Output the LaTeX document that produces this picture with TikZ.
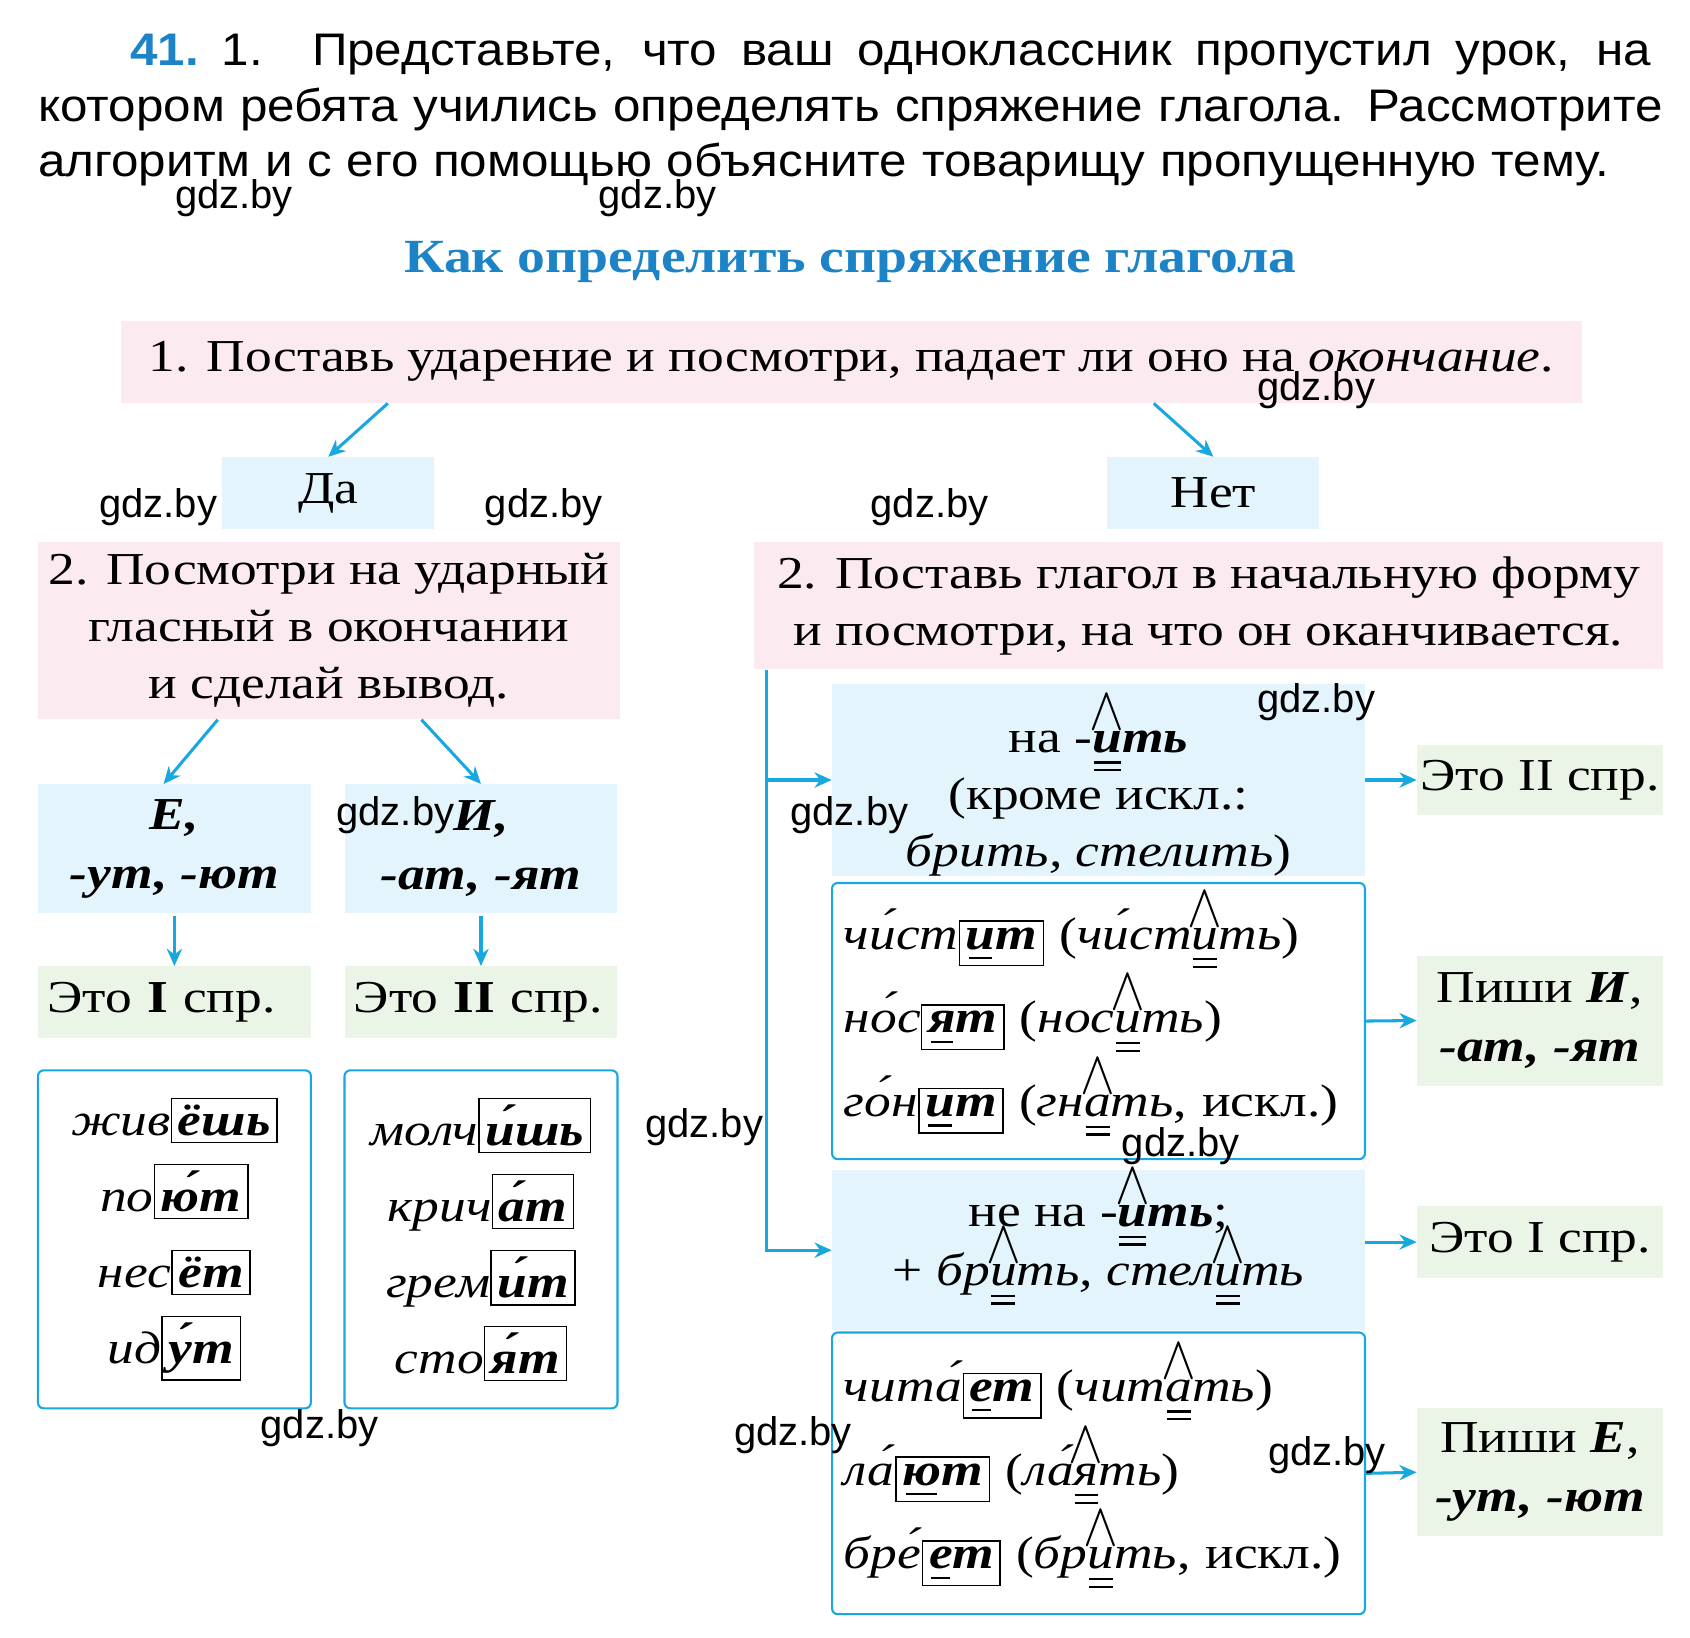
\documentclass[tikz,border=0pt]{standalone}
\usepackage{fontspec}
\setmainfont{Liberation Serif}[FakeStretch=1.17]
\setsansfont{Liberation Sans}[FakeStretch=1.08]
\usetikzlibrary{arrows.meta,calc}
\definecolor{hdblue}{RGB}{28,132,198}
\definecolor{arrcyan}{RGB}{24,168,224}
\definecolor{pinkbg}{RGB}{252,234,241}
\definecolor{bluebg}{RGB}{228,244,252}
\definecolor{greenbg}{RGB}{234,245,232}
% stressed vowel with caret above and double line below
\newcommand{\vw}[1]{\setbox0\hbox{#1}\rlap{\smash{\hbox to\wd0{\hss\raisebox{0.5em}{\scalebox{1.1}[1.3]{$\wedge$}}\hss}}}%
  \rlap{\smash{\hbox to\wd0{\hss\raisebox{-0.25em}{\rule{0.9\wd0}{0.05em}}\hss}}}%
  \rlap{\smash{\hbox to\wd0{\hss\raisebox{-0.42em}{\rule{0.9\wd0}{0.05em}}\hss}}}#1}
% single line below
\newcommand{\uvw}[1]{\setbox0\hbox{#1}\rlap{\hbox to\wd0{\hss\raisebox{-0.22em}{\rule{0.8\wd0}{0.05em}}\hss}}#1}
\newcommand{\wend}[1]{{\setlength{\fboxsep}{3pt}\setlength{\fboxrule}{0.8pt}\fbox{\textbf{\textit{#1}}}}}
\newcommand{\wm}[1]{{\fontspec{Liberation Sans}\fontsize{21}{24}\selectfont #1}}

\begin{document}
\begin{tikzpicture}[x=0.02cm,y=-0.02cm,
  every node/.style={inner sep=0pt,font=\fontsize{24}{30}\selectfont},
  pinkbox/.style={fill=pinkbg,align=center},
  bluebox/.style={fill=bluebg,align=center},
  greenbox/.style={fill=greenbg,align=center},
  wordbox/.style={draw=arrcyan,line width=1.1pt,rounded corners=3pt},
  arr/.style={-{Stealth[length=9pt,width=8pt]},draw=arrcyan,line width=1.6pt}]
\useasboundingbox[fill=white] (0,0) rectangle (1560,1512);

% task text
\node[anchor=base west,font=\sffamily\fontsize{24}{28}\selectfont] (line1) at (120,60)
  {\textcolor{hdblue}{\textbf{41.}}\hspace{0.5em}\makebox[26.4cm][s]{1. Представьте, что ваш одноклассник пропустил урок, на}};
\node[anchor=base west,font=\sffamily\fontsize{24}{28}\selectfont] (line2) at (35,112)
  {\makebox[30cm][s]{котором ребята учились определять спряжение глагола. Рассмотрите}};
\node[anchor=base west,font=\sffamily\fontsize{24}{28}\selectfont] (line3) at (35,163)
  {\makebox[29cm][s]{алгоритм и с его помощью объясните товарищу пропущенную тему.}};

\node[font=\bfseries\fontsize{25}{30}\selectfont,text=hdblue] (title) at (785,242) {Как определить спряжение глагола};

% step 1
\node[pinkbox,minimum width=26.96cm,minimum height=1.52cm] (q1) at (786,334)
  {1. Поставь ударение и посмотри, падает ли оно на \textit{окончание}.};
\node[bluebox,minimum width=3.92cm,minimum height=1.32cm] (da) at (303,455) {Да};
\node[bluebox,minimum width=3.92cm,minimum height=1.32cm] (net) at (1120,455) {Нет};
\draw[arr] ([xshift=1.1cm]q1.south -| da.north) -- (da.north);
\draw[arr] ([xshift=-1.1cm]q1.south -| net.north) -- (net.north);

% left branch
\node[pinkbox,minimum width=10.74cm,minimum height=3.28cm] (lq2) at (303.5,582)
  {2. Посмотри на ударный\\гласный в окончании\\и сделай вывод.};
\node[bluebox,minimum width=5.04cm,minimum height=2.38cm,font=\bfseries\itshape\fontsize{24}{31}\selectfont] (e) at (161,783.5) {Е,\\-ут, -ют};
\node[bluebox,minimum width=5.04cm,minimum height=2.38cm,font=\bfseries\itshape\fontsize{24}{31}\selectfont] (i) at (444,783.5) {И,\\-ат, -ят};
\draw[arr] ([xshift=0.8cm]lq2.south -| e.north) -- ([xshift=-0.2cm]e.north);
\draw[arr] ([xshift=-1.1cm]lq2.south -| i.north) -- (i.north);
\node[greenbox,minimum width=5.04cm,minimum height=1.32cm,text width=4.7cm,align=left] (ie1) at (161,925) {Это \textbf{I} спр.};
\node[greenbox,minimum width=5.04cm,minimum height=1.32cm,text width=4.7cm,align=left] (ie2) at (444,925) {Это \textbf{II} спр.};
\draw[arr] ([yshift=-0.05cm]e.south) -- (ie1.north);
\draw[arr] ([yshift=-0.05cm]i.south) -- (ie2.north);

\node[wordbox,minimum width=5.04cm,minimum height=6.24cm,align=center,font=\fontsize{24}{40}\selectfont] (wl) at (161,1144)
  {\textit{жив}\wend{ёшь}\\\textit{по}\wend{ю́т}\\\textit{нес}\wend{ёт}\\\textit{ид}\wend{у́т}};
\node[wordbox,minimum width=5.04cm,minimum height=6.24cm,align=center,font=\fontsize{24}{40}\selectfont] (wr) at (444,1144)
  {\textit{молч}\wend{и́шь}\\\textit{крич}\wend{а́т}\\\textit{грем}\wend{и́т}\\\textit{сто}\wend{я́т}};

% right branch
\node[pinkbox,minimum width=16.78cm,minimum height=2.36cm] (rq2) at (1115.5,559)
  {2. Поставь глагол в начальную форму\\и посмотри, на что он оканчивается.};
\node[bluebox,minimum width=9.84cm,minimum height=3.52cm,font=\fontsize{24}{30}\selectfont] (ra) at (1014,720)
  {\rule{0pt}{1.5em}на -\textbf{\textit{\vw{и}ть}}\\(кроме искл.:\\\textit{брить, стелить})};
\node[wordbox,minimum width=9.84cm,minimum height=5.1cm,text width=9.4cm,align=left,font=\fontsize{24}{44}\selectfont] (rb) at (1014,942.5)
  {\textit{чи́ст}\wend{\uvw{и}т} (\textit{чи́ст\vw{и}ть})\\
   \textit{но́с}\wend{\uvw{я}т} (\textit{нос\vw{и}ть})\\
   \textit{го́н}\wend{\uvw{и}т} (\textit{гн\vw{а}ть}, искл.)};
\node[bluebox,minimum width=9.84cm,minimum height=2.96cm,font=\fontsize{24}{31}\selectfont] (rc) at (1014,1154)
  {не на -\textbf{\textit{\vw{и}ть}};\\+ \textit{бр\vw{и}ть, стел\vw{и}ть}};
\node[wordbox,minimum width=9.84cm,minimum height=5.2cm,text width=9.4cm,align=left,font=\fontsize{24}{44}\selectfont] (rd) at (1014,1360)
  {\textit{чита́}\wend{\uvw{е}т} (\textit{чит\vw{а}ть})\\
   \textit{ла́}\wend{\uvw{ю}т} (\textit{ла́\vw{я}ть})\\
   \textit{бре́}\wend{\uvw{е}т} (\textit{бр\vw{и}ть}, искл.)};
\coordinate (trunk) at ([xshift=0.24cm]rq2.south west);
\draw[arr] (trunk) |- (ra.west);
\draw[arr] (trunk) |- (rc.west);

\node[greenbox,minimum width=4.54cm,minimum height=1.28cm] (g1) at (1421.5,720) {Это II спр.};
\node[greenbox,minimum width=4.54cm,minimum height=2.4cm,font=\fontsize{24}{31}\selectfont] (g2) at (1421.5,942) {Пиши \textbf{\textit{И}},\\\textbf{\textit{-ат, -ят}}};
\node[greenbox,minimum width=4.54cm,minimum height=1.34cm] (g3) at (1421.5,1146.5) {Это I спр.};
\node[greenbox,minimum width=4.54cm,minimum height=2.36cm,font=\fontsize{24}{31}\selectfont] (g4) at (1421.5,1359) {Пиши \textbf{\textit{Е}},\\\textbf{\textit{-ут, -ют}}};
\draw[arr] (ra.east) -- (g1.west);
\draw[arr] (rb.east) -- (g2.west);
\draw[arr] (rc.east |- g3.west) -- (g3.west);
\draw[arr] (rd.east) -- (g4.west);

% watermarks
\foreach \wx/\wy [count=\k] in {216/183,607/183,1215/360,146/468,502/468,858/468,1215/648,784/752,365/752,650/1040,1090/1058,295/1318,732/1325,1225/1343}
  \node (wm\k) at (\wx,\wy) {\wm{gdz.by}};
\end{tikzpicture}
\end{document}
